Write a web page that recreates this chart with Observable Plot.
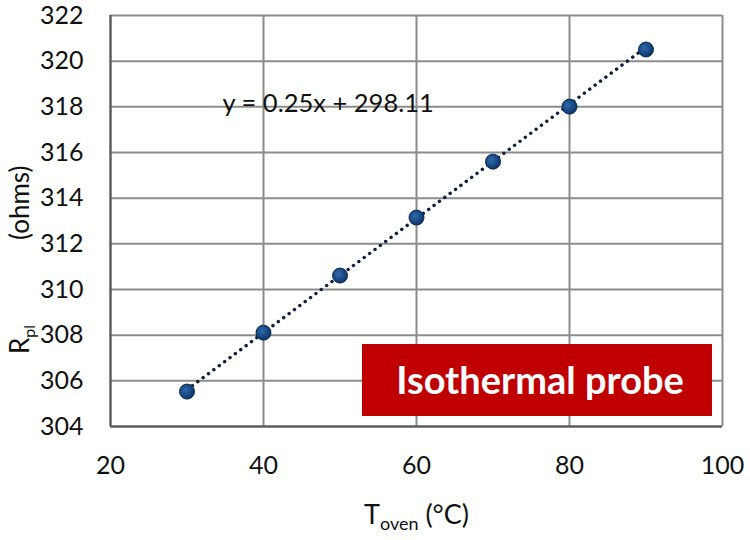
<!DOCTYPE html>
<html>
<head>
<meta charset="utf-8">
<script src="https://cdn.jsdelivr.net/npm/d3@7"></script>
<script src="https://cdn.jsdelivr.net/npm/@observablehq/plot@0.6"></script>
<style>
  html, body { margin: 0; padding: 0; background: #fff; }
  #chart svg { display: block; }
</style>
</head>
<body>
<div id="chart"></div>
<script>
// Data
const tOven = [30, 40, 50, 60, 70, 80, 90];
const rPl = [305.53, 308.11, 310.61, 313.15, 315.60, 318.01, 320.51];
const slope = 0.25;
const intercept = 298.11;
const xTicks = [20, 40, 60, 80, 100];
const yTicks = [304, 306, 308, 310, 312, 314, 316, 318, 320, 322];
const annotationLabel = "Isothermal probe";

const data = tOven.map((t, i) => ({t, r: rPl[i]}));
const trend = tOven.filter((t, i) => i === 0 || i === tOven.length - 1)
  .map(t => ({t, r: slope * t + intercept}));
const equation = `y = ${slope}x + ${intercept}`;

const FONT = "Lato, 'Open Sans', sans-serif";
const GRID = "#8c8c8c";

const plot = Plot.plot({
  width: 750,
  height: 540,
  marginLeft: 110,
  marginRight: 28,
  marginTop: 15,
  marginBottom: 114,
  style: {fontFamily: FONT, fontSize: "25px", color: "#000", background: "#fff"},
  x: {domain: [20, 100], ticks: xTicks, label: null},
  y: {domain: [304, 322], ticks: yTicks, label: null},
  marks: [
    Plot.gridX(xTicks, {stroke: GRID, strokeOpacity: 1, strokeWidth: 2}),
    Plot.gridY(yTicks, {stroke: GRID, strokeOpacity: 1, strokeWidth: 2}),
    Plot.ruleX([20], {stroke: "#555", strokeWidth: 2}),
    Plot.ruleY([304], {stroke: "#555", strokeWidth: 2}),
    Plot.axisX(xTicks, {tickSize: 0, tickPadding: 30, fontSize: 25, fill: "#111"}),
    Plot.axisY(yTicks, {tickSize: 0, tickPadding: 27, fontSize: 25, fill: "#111"}),
    Plot.line(trend, {x: "t", y: "r", stroke: "#0f213f", strokeWidth: 3.4,
      strokeDasharray: "0.1 6.6", strokeLinecap: "round"}),
    Plot.dot(data, {x: "t", y: "r", r: 7.5, fill: "url(#dotgrad)", stroke: "#0b2a55", strokeWidth: 1}),
    Plot.text([equation], {frameAnchor: "top-left", dx: 112, dy: 88, text: d => d,
      textAnchor: "start", fontSize: 25.5, fill: "#111", lineAnchor: "middle"})
  ]
});

const svg = d3.select(plot);
const defs = svg.insert("defs", ":first-child");
const g = defs.append("radialGradient").attr("id", "dotgrad").attr("cx", "40%").attr("cy", "40%").attr("r", "60%");
g.append("stop").attr("offset", "0%").attr("stop-color", "#2f6aae");
g.append("stop").attr("offset", "100%").attr("stop-color", "#0e3468");

// Annotation box
svg.append("rect").attr("x", 362).attr("y", 344).attr("width", 350).attr("height", 72).attr("fill", "#c00000");
svg.append("text").attr("x", 540).attr("y", 394).attr("text-anchor", "middle")
  .attr("font-family", FONT).attr("font-weight", "bold").attr("font-size", 38)
  .attr("fill", "#fff").text(annotationLabel);

// Y axis label
const yl = svg.append("text").attr("transform", "translate(29,354) rotate(-90)")
  .attr("text-anchor", "start")
  .attr("font-family", FONT).attr("font-size", 26).attr("fill", "#111");
yl.append("tspan").text("R");
yl.append("tspan").attr("font-size", 16).attr("dy", 6).text("pl");
yl.append("tspan").attr("dy", -6).attr("x", 114).text("(ohms)");

// X axis label
const xl = svg.append("text").attr("x", 364).attr("y", 524)
  .attr("text-anchor", "start")
  .attr("font-family", FONT).attr("font-size", 27).attr("fill", "#111");
xl.append("tspan").text("T");
xl.append("tspan").attr("font-size", 18).attr("dy", 6).text("oven");
xl.append("tspan").attr("dy", -6).text(" (°C)");

document.getElementById("chart").appendChild(plot);
</script>
</body>
</html>
